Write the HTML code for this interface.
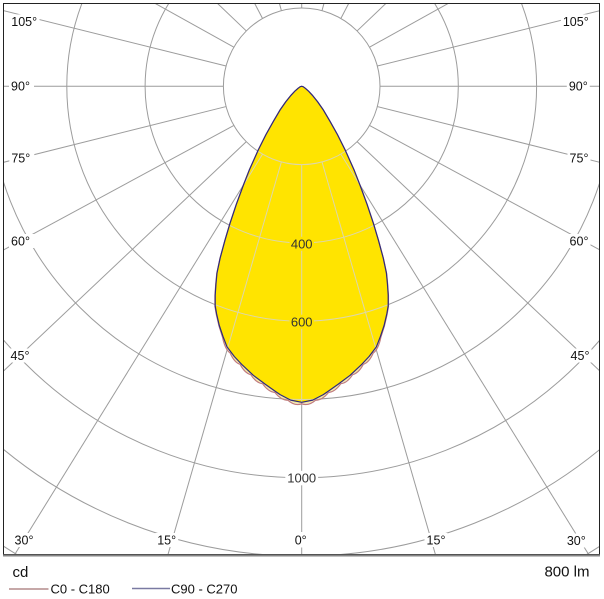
<!DOCTYPE html>
<html>
<head>
<meta charset="utf-8">
<style>
  html,body{margin:0;padding:0;background:#fff;width:604px;height:599px;overflow:hidden;}
  svg{display:block;}
  text{font-family:"Liberation Sans", Arial, sans-serif;}
</style>
</head>
<body>
<svg width="604" height="599" viewBox="0 0 604 599" xmlns="http://www.w3.org/2000/svg">
  <defs>
    <clipPath id="frame"><rect x="4" y="4" width="595" height="551"/></clipPath>
    <clipPath id="curveclip">
      <path d="M301.7,86.3 L300.25,86.7 L298.2,88.2 L295.1,90.9 L291,95.3 L285.9,101.6 L280.1,109.9 L273.4,121.3 L266,134.5 L258.3,149.9 L249.2,170.3 L243.3,185.4 L236.3,204.4 L229.9,223.7 L225,240.2 L220.2,257.9 L217,273 L216,283.5 L215.2,295.1 L215.2,305.9 L216.6,313.9 L219.3,325.5 L222.8,336.6 Q225.3,348.7 230.4,352.2 Q234.4,361.55 240.3,363.5 Q244.9,372.3 251,373.8 Q256.2,382 262.7,382.8 Q268.35,390.9 275,391.6 Q281.2,399.3 288,399.3 Q294.75,405.3 301.7,402.8 Q308.65,405.3 315.4,399.3 Q322.2,399.3 328.4,391.6 Q335.05,390.9 340.7,382.8 Q347.2,382 352.4,373.8 Q358.5,372.3 363.1,363.5 Q369,361.55 373,352.2 Q378.1,348.7 380.6,336.6 L384.1,325.5 L386.8,313.9 L388.2,305.9 L388.2,295.1 L387.4,283.5 L386.4,273 L383.2,257.9 L378.4,240.2 L373.5,223.7 L367.1,204.4 L360.1,185.4 L354.2,170.3 L345.1,149.9 L337.4,134.5 L330,121.3 L323.3,109.9 L317.5,101.6 L312.4,95.3 L308.3,90.9 L305.2,88.2 L303.15,86.7 Z"/>
    </clipPath>
    <g id="grid">
      <circle cx="301.7" cy="86.3" r="78.3"/>
      <circle cx="301.7" cy="86.3" r="156.6"/>
      <circle cx="301.7" cy="86.3" r="234.9"/>
      <circle cx="301.7" cy="86.3" r="313.2"/>
      <circle cx="301.7" cy="86.3" r="391.5"/>
      <circle cx="301.7" cy="86.3" r="469.8"/>
      <path d="M0,543.9 A548.1,548.1 0 0 0 20.9,557"/>
      <path d="M582.5,557 A548.1,548.1 0 0 0 603.4,543.9"/>
      <line x1="301.7" y1="164.6" x2="301.7" y2="560"/>
      <line x1="281.4" y1="161.9" x2="166.4" y2="560"/>
      <line x1="262.55" y1="154.1" x2="0" y2="578.3"/>
      <line x1="246.33" y1="141.67" x2="0" y2="374.4"/>
      <line x1="233.89" y1="125.45" x2="0" y2="251.8"/>
      <line x1="226.07" y1="106.57" x2="0" y2="163.2"/>
      <line x1="223.4" y1="86.3" x2="0" y2="86.3"/>
      <line x1="226.07" y1="66.03" x2="0" y2="9.8"/>
      <line x1="233.89" y1="47.15" x2="149" y2="0"/>
      <line x1="246.33" y1="30.93" x2="213.9" y2="0"/>
      <line x1="262.55" y1="18.49" x2="252.9" y2="0"/>
      <line x1="281.4" y1="10.67" x2="278.5" y2="0"/>
      <line x1="301.7" y1="8" x2="301.7" y2="0"/>
      <line x1="322" y1="161.9" x2="437" y2="560"/>
      <line x1="340.85" y1="154.1" x2="603.4" y2="578.3"/>
      <line x1="357.07" y1="141.67" x2="603.4" y2="374.4"/>
      <line x1="369.51" y1="125.45" x2="603.4" y2="251.8"/>
      <line x1="377.33" y1="106.57" x2="603.4" y2="163.2"/>
      <line x1="380" y1="86.3" x2="604" y2="86.3"/>
      <line x1="377.33" y1="66.03" x2="603.4" y2="9.8"/>
      <line x1="369.51" y1="47.15" x2="454.4" y2="0"/>
      <line x1="357.07" y1="30.93" x2="389.5" y2="0"/>
      <line x1="340.85" y1="18.49" x2="350.5" y2="0"/>
      <line x1="322" y1="10.67" x2="324.9" y2="0"/>
    </g>
  </defs>

  <rect x="0" y="0" width="604" height="599" fill="#ffffff"/>

  <!-- gray grid -->
  <g clip-path="url(#frame)">
    <use href="#grid" fill="none" stroke="#9c9c9c" stroke-width="1"/>
  </g>

  <!-- fills -->
  <path fill="#f6ea9c" d="M301.7,86.3 L300.25,86.7 L298.2,88.2 L295.1,90.9 L291,95.3 L285.9,101.6 L280.1,109.9 L273.4,121.3 L266,134.5 L258.3,149.9 L249.2,170.3 L243.3,185.4 L236.3,204.4 L229.9,223.7 L225,240.2 L220.2,257.9 L217,273 L216,283.5 L215.2,295.1 L215.2,305.9 L216.6,313.9 L219.3,325.5 L222.8,336.6 Q225.3,348.7 230.4,352.2 Q234.4,361.55 240.3,363.5 Q244.9,372.3 251,373.8 Q256.2,382 262.7,382.8 Q268.35,390.9 275,391.6 Q281.2,399.3 288,399.3 Q294.75,405.3 301.7,402.8 Q308.65,405.3 315.4,399.3 Q322.2,399.3 328.4,391.6 Q335.05,390.9 340.7,382.8 Q347.2,382 352.4,373.8 Q358.5,372.3 363.1,363.5 Q369,361.55 373,352.2 Q378.1,348.7 380.6,336.6 L384.1,325.5 L386.8,313.9 L388.2,305.9 L388.2,295.1 L387.4,283.5 L386.4,273 L383.2,257.9 L378.4,240.2 L373.5,223.7 L367.1,204.4 L360.1,185.4 L354.2,170.3 L345.1,149.9 L337.4,134.5 L330,121.3 L323.3,109.9 L317.5,101.6 L312.4,95.3 L308.3,90.9 L305.2,88.2 L303.15,86.7 Z"/>
  <path fill="#ffe400" d="M301.7,86.3 L300.25,86.7 L298.2,88.2 L295.1,90.9 L291,95.3 L285.9,101.6 L280.1,109.9 L273.4,121.3 L266,134.5 L258.3,149.9 L249.2,170.3 L243.3,185.4 L236.3,204.4 L229.9,223.7 L225,240.2 L220.2,257.9 L217,273 L216,283.5 L215.2,295.1 L215.2,305.9 L216.6,313.9 L219.3,325.5 L222.9,336.2 L227,346.8 L234.3,356.5 L242.4,365.1 L253.3,375.3 L265.1,384.1 L275,391.1 L280.1,394.6 L290.7,400.1 L301.7,402.3 L312.7,400.1 L323.3,394.6 L328.4,391.1 L338.3,384.1 L350.1,375.3 L361,365.1 L369.1,356.5 L376.4,346.8 L380.5,336.2 L384.1,325.5 L386.8,313.9 L388.2,305.9 L388.2,295.1 L387.4,283.5 L386.4,273 L383.2,257.9 L378.4,240.2 L373.5,223.7 L367.1,204.4 L360.1,185.4 L354.2,170.3 L345.1,149.9 L337.4,134.5 L330,121.3 L323.3,109.9 L317.5,101.6 L312.4,95.3 L308.3,90.9 L305.2,88.2 L303.15,86.7 Z"/>

  <!-- pale grid inside the fill -->
  <g clip-path="url(#curveclip)">
    <use href="#grid" fill="none" stroke="#dcd6ac" stroke-width="1"/>
  </g>

  <!-- curve strokes -->
  <path fill="none" stroke="#c07c7c" stroke-width="1.2" stroke-linejoin="round" transform="translate(301.7,86.3) scale(1.003) translate(-301.7,-86.3)" d="M301.7,86.3 L300.25,86.7 L298.2,88.2 L295.1,90.9 L291,95.3 L285.9,101.6 L280.1,109.9 L273.4,121.3 L266,134.5 L258.3,149.9 L249.2,170.3 L243.3,185.4 L236.3,204.4 L229.9,223.7 L225,240.2 L220.2,257.9 L217,273 L216,283.5 L215.2,295.1 L215.2,305.9 L216.6,313.9 L219.3,325.5 L222.8,336.6 Q225.3,348.7 230.4,352.2 Q234.4,361.55 240.3,363.5 Q244.9,372.3 251,373.8 Q256.2,382 262.7,382.8 Q268.35,390.9 275,391.6 Q281.2,399.3 288,399.3 Q294.75,405.3 301.7,402.8 Q308.65,405.3 315.4,399.3 Q322.2,399.3 328.4,391.6 Q335.05,390.9 340.7,382.8 Q347.2,382 352.4,373.8 Q358.5,372.3 363.1,363.5 Q369,361.55 373,352.2 Q378.1,348.7 380.6,336.6 L384.1,325.5 L386.8,313.9 L388.2,305.9 L388.2,295.1 L387.4,283.5 L386.4,273 L383.2,257.9 L378.4,240.2 L373.5,223.7 L367.1,204.4 L360.1,185.4 L354.2,170.3 L345.1,149.9 L337.4,134.5 L330,121.3 L323.3,109.9 L317.5,101.6 L312.4,95.3 L308.3,90.9 L305.2,88.2 L303.15,86.7 Z"/>
  <path fill="none" stroke="#2e2a7c" stroke-width="1.2" stroke-linejoin="round" d="M301.7,86.3 L300.25,86.7 L298.2,88.2 L295.1,90.9 L291,95.3 L285.9,101.6 L280.1,109.9 L273.4,121.3 L266,134.5 L258.3,149.9 L249.2,170.3 L243.3,185.4 L236.3,204.4 L229.9,223.7 L225,240.2 L220.2,257.9 L217,273 L216,283.5 L215.2,295.1 L215.2,305.9 L216.6,313.9 L219.3,325.5 L222.9,336.2 L227,346.8 L234.3,356.5 L242.4,365.1 L253.3,375.3 L265.1,384.1 L275,391.1 L280.1,394.6 L290.7,400.1 L301.7,402.3 L312.7,400.1 L323.3,394.6 L328.4,391.1 L338.3,384.1 L350.1,375.3 L361,365.1 L369.1,356.5 L376.4,346.8 L380.5,336.2 L384.1,325.5 L386.8,313.9 L388.2,305.9 L388.2,295.1 L387.4,283.5 L386.4,273 L383.2,257.9 L378.4,240.2 L373.5,223.7 L367.1,204.4 L360.1,185.4 L354.2,170.3 L345.1,149.9 L337.4,134.5 L330,121.3 L323.3,109.9 L317.5,101.6 L312.4,95.3 L308.3,90.9 L305.2,88.2 L303.15,86.7 Z"/>

  <!-- value labels -->
  <rect x="289.5" y="236.8" width="24.5" height="14" fill="#ffe400"/>
  <rect x="289.5" y="314.7" width="24.5" height="14" fill="#ffe400"/>
  <rect x="285.3" y="470.8" width="32.8" height="14.5" fill="#ffffff"/>
  <g font-size="13" fill="#333333" text-anchor="middle">
    <text x="301.7" y="248.4">400</text>
    <text x="301.7" y="326.3">600</text>
    <text x="301.7" y="482.7">1000</text>
  </g>

  <!-- angle label backgrounds -->
  <g fill="#ffffff">
    <rect x="9.5" y="14.4" width="30" height="14"/>
    <rect x="9" y="79" width="25" height="14"/>
    <rect x="9.3" y="151" width="25" height="14"/>
    <rect x="9" y="234" width="25" height="14"/>
    <rect x="8.5" y="348.5" width="25" height="14"/>
    <rect x="12.5" y="533" width="23" height="14"/>
    <rect x="155.2" y="533" width="23" height="14"/>
    <rect x="292.5" y="532" width="16.5" height="15.5"/>
    <rect x="560.9" y="14.4" width="30" height="14"/>
    <rect x="566.8" y="79" width="23" height="14"/>
    <rect x="567.5" y="151" width="23" height="14"/>
    <rect x="567.5" y="234" width="23" height="14"/>
    <rect x="568.5" y="348.5" width="23" height="14"/>
    <rect x="564.8" y="533.5" width="23" height="14"/>
    <rect x="424.5" y="533" width="23" height="14"/>
  </g>
  <g font-size="12.5" fill="#111111" text-anchor="middle">
    <text x="24.2" y="25.9">105°</text>
    <text x="20.5" y="90.5">90°</text>
    <text x="20.8" y="162.5">75°</text>
    <text x="20.5" y="245.5">60°</text>
    <text x="20" y="360">45°</text>
    <text x="24" y="544.5">30°</text>
    <text x="166.7" y="544.5">15°</text>
    <text x="300.7" y="544.5">0°</text>
    <text x="575.8" y="25.9">105°</text>
    <text x="578.3" y="90.5">90°</text>
    <text x="579" y="162.5">75°</text>
    <text x="579" y="245.5">60°</text>
    <text x="580" y="360">45°</text>
    <text x="576.3" y="545">30°</text>
    <text x="436" y="544.5">15°</text>
  </g>

  <!-- frame -->
  <rect x="3.5" y="3.5" width="596" height="551" fill="none" stroke="#222222" stroke-width="1"/>
  <line x1="3" y1="555.5" x2="600" y2="555.5" stroke="#858585" stroke-width="2"/>

  <!-- footer -->
  <text x="12.5" y="577" font-size="15" fill="#111111">cd</text>
  <text x="589.5" y="576.5" font-size="15" fill="#111111" text-anchor="end">800 lm</text>

  <line x1="9" y1="589" x2="48.5" y2="589" stroke="#b48c8c" stroke-width="1.5"/>
  <text x="50.5" y="593.5" font-size="13" fill="#111111">C0 - C180</text>
  <line x1="132" y1="588.5" x2="170" y2="588.5" stroke="#7a7aa2" stroke-width="1.5"/>
  <text x="171" y="593.5" font-size="13" fill="#111111">C90 - C270</text>
</svg>
</body>
</html>
